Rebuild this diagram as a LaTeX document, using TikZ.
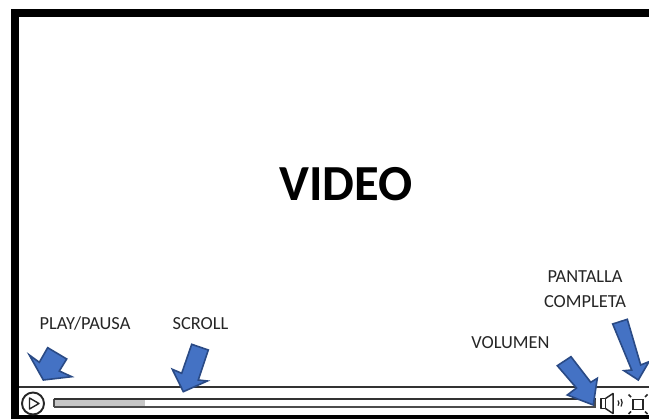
\documentclass[tikz,border=0pt]{standalone}
\usepackage{fontspec}
\setmainfont{Carlito}
\definecolor{ablue}{HTML}{4472C4}
\definecolor{aedge}{HTML}{2A4A85}
\tikzset{
  callout/.style={draw=aedge,line width=1.6pt,fill=ablue,line join=miter},
  lbl/.style={font=\fontsize{18.4}{22}\selectfont,text=black!85,inner sep=0pt,align=center},
  bar/.style={draw=black!80,line width=2pt},
  icon/.style={draw=black!85,line width=1.5pt}
}
\begin{document}
\begin{tikzpicture}[x=1pt,y=-1pt]
\useasboundingbox (0,0) rectangle (649,419);
\fill[white] (0,0) rectangle (649,419);
% frame
\fill[black] (11,9) rectangle (649,17);
\fill[black] (11,9) rectangle (19,419);
\fill[black] (11,415.5) rectangle (649,419);
% toolbar
\draw[bar] (19,387.5) -- (649,387.5);
\draw[icon,line width=1.9pt] (33,403.5) circle (11);
\draw[icon,line width=1.4pt,line join=round] (29.5,398) -- (39,403.5) -- (29.5,409) -- cycle;
\fill[black!22] (54,399) rectangle (145,407);
\draw[draw=black!70,line width=1.2pt] (54,407) -- (54,398.7);
\draw[draw=black!70,line width=1.2pt] (54,407) -- (595,407) -- (595,398.7);
\draw[draw=black!80,line width=2pt] (53.5,398.7) -- (595.5,398.7);
% speaker
\draw[icon,line join=round] (601,398.5) rectangle (605.5,408.5);
\draw[icon,line join=round] (605.5,398.5) -- (613,393.5) -- (613,413.5) -- (605.5,408.5);
\draw[icon,line width=1.2pt] (618,400.5) arc (-40:40:4);
\draw[icon,line width=1.2pt] (621,399) arc (-35:35:6.5);
% fullscreen
\draw[icon,line width=1.8pt] (633,399.5) rectangle (643,409.5);
\draw[icon,line width=1.7pt] (628.5,394.5) -- (631,397);
\draw[icon,line width=1.7pt] (647.5,394.5) -- (645,397);
\draw[icon,line width=1.7pt] (628.5,414) -- (631,411.5);
\draw[icon,line width=1.7pt] (647.5,414) -- (645,411.5);
% arrows
\draw[callout] (43.3,380) -- (29.3,355) -- (39.3,362.3) -- (47.7,347.7) -- (66.7,359) -- (59.3,371) -- (71.7,376.7) -- cycle;
\draw[callout] (183.3,391.7) -- (172.3,369.3) -- (181.7,373.3) -- (191.7,344.3) -- (208.3,350) -- (198.3,380) -- (207.3,381) -- cycle;
\draw[callout] (593.3,405) -- (567.3,395) -- (576.5,388) -- (557.3,365.7) -- (571,356.7) -- (590.7,382.3) -- (597.3,378.3) -- cycle;
\draw[callout] (638.3,380) -- (624,370.7) -- (631.7,370) -- (612.7,324) -- (627.3,319.3) -- (640.7,365) -- (649,361.7) -- cycle;
% text
\node[font=\bfseries\fontsize{50.5}{56}\selectfont,inner sep=0pt] (title) at (346,184) {VIDEO};
\node[lbl] (play) at (85,324) {PLAY/PAUSA};
\node[lbl] (scroll) at (200.5,324) {SCROLL};
\node[lbl] (vol) at (510.5,343) {VOLUMEN};
\node[lbl] (full) at (585,277) {PANTALLA};
\node[lbl] (comp) at (585,301.5) {COMPLETA};
\end{tikzpicture}
\end{document}
